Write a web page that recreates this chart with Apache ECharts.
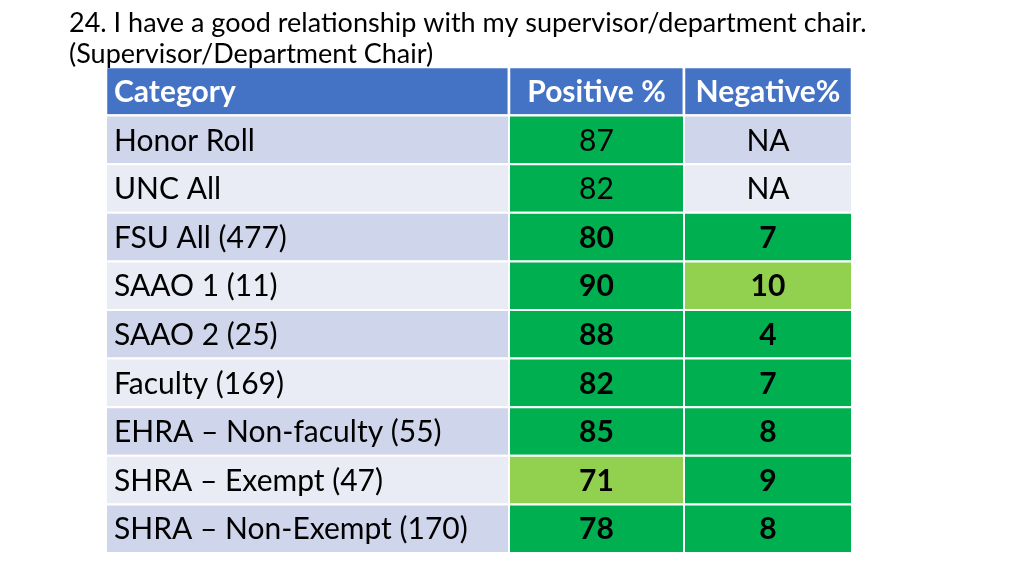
<!DOCTYPE html>
<html>
<head>
<meta charset="utf-8">
<script src="https://cdn.jsdelivr.net/npm/echarts@6/dist/echarts.min.js"></script>
<style>html,body{margin:0;padding:0;background:#fff}#c{width:1024px;height:576px}</style>
</head>
<body>
<div id="c"></div>
<script>
const titleLines = ['24. I have a good relationship with my supervisor/department chair.', '(Supervisor/Department Chair)'];
const headers = ['Category', 'Positive %', 'Negative%'];
const categories = ['Honor Roll', 'UNC All', 'FSU All (477)', 'SAAO 1 (11)', 'SAAO 2 (25)', 'Faculty (169)', 'EHRA – Non-faculty (55)', 'SHRA – Exempt (47)', 'SHRA – Non-Exempt (170)'];
const positive = [87, 82, 80, 90, 88, 82, 85, 71, 78];
const negative = ['NA', 'NA', 7, 10, 4, 7, 8, 9, 8];

const FONT = 'Lato, "Noto Sans", sans-serif';
const HEADER_BG = '#4472C4';
const BAND = ['#CFD5EA', '#E9EBF5'];
const GREEN = '#00B050';
const LIGHT_GREEN = '#92D050';

const rowsAxis = ['header'].concat(categories);

function cellFill(col, i) {
  if (col === 0) return BAND[i % 2];
  if (col === 1) return positive[i] < 75 ? LIGHT_GREEN : GREEN;
  const v = negative[i];
  if (typeof v !== 'number') return BAND[i % 2];
  return v >= 10 ? LIGHT_GREEN : GREEN;
}
function cellText(col, i) {
  if (col === 0) return categories[i];
  if (col === 1) return String(positive[i]);
  return String(negative[i]);
}
function isBold(col, i) {
  return col > 0 && typeof negative[i] === 'number';
}

const colLayout = [
  {left: 106, width: 403, align: 'left'},
  {left: 509, width: 175, align: 'center'},
  {left: 684, width: 168, align: 'center'}
];

const grids = [], xAxes = [], yAxes = [], series = [];
colLayout.forEach((c, col) => {
  grids.push({left: c.left, width: c.width, top: 67, height: 486});
  xAxes.push({type: 'category', gridIndex: col, data: [headers[col]], show: false});
  yAxes.push({type: 'category', gridIndex: col, data: rowsAxis, inverse: true, show: false});
  const data = rowsAxis.map((r, ri) => [0, ri]);
  series.push({
    type: 'custom',
    xAxisIndex: col,
    yAxisIndex: col,
    data: data,
    silent: true,
    renderItem: function (params, api) {
      const ri = api.value(1);
      const p = api.coord([api.value(0), ri]);
      const s = api.size([1, 1]);
      const x0 = p[0] - s[0] / 2, y0 = p[1] - s[1] / 2;
      let fill, text, bold, color;
      if (ri === 0) {
        fill = HEADER_BG; text = headers[col]; bold = true; color = '#fff';
      } else {
        const i = ri - 1;
        fill = cellFill(col, i); text = cellText(col, i); bold = isBold(col, i); color = '#000';
      }
      const tx = c.align === 'left' ? x0 + 8 : p[0];
      return {
        type: 'group',
        children: [
          {type: 'rect', shape: {x: x0, y: y0, width: s[0], height: s[1]},
           style: {fill: fill, stroke: '#fff', lineWidth: ri === 0 ? 2.5 : 2}},
          {type: 'text', x: tx, y: p[1] + 1,
           style: {text: text, fill: color, font: (bold ? 'bold ' : '') + '30px ' + FONT,
                   textAlign: c.align, textVerticalAlign: 'middle'}}
        ]
      };
    }
  });
});

const chart = echarts.init(document.getElementById('c'), null, {renderer: 'canvas'});
chart.setOption({
  animation: false,
  backgroundColor: '#fff',
  title: {
    text: titleLines.join('\n'),
    left: 64, top: 3,
    textStyle: {fontFamily: FONT, fontSize: 27, fontWeight: 'normal', color: '#000', lineHeight: 31}
  },
  grid: grids, xAxis: xAxes, yAxis: yAxes, series: series
});
</script>
</body>
</html>
